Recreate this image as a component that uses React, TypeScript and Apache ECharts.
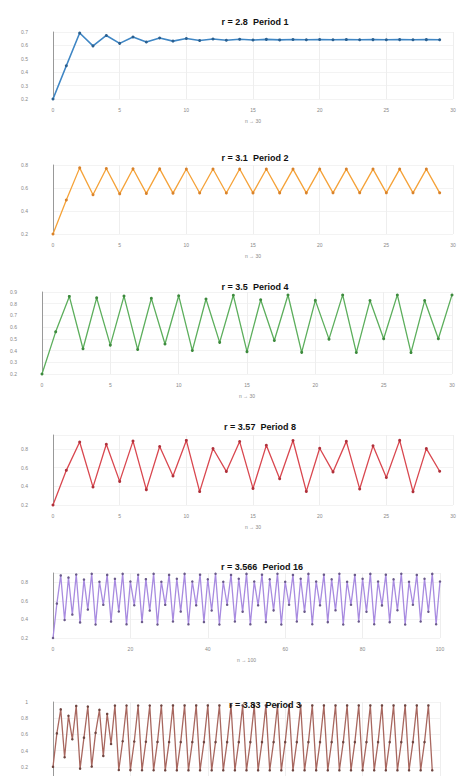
import React, { useEffect, useRef } from "react";
import * as echarts from "echarts";

// Logistic map orbits (x0 = 0.2)
const titles = [
  "r = 2.8  Period 1",
  "r = 3.1  Period 2",
  "r = 3.5  Period 4",
  "r = 3.57  Period 8",
  "r = 3.566  Period 16",
  "r = 3.83  Period 3",
];

const xName = ["n → 30", "n → 30", "n → 30", "n → 30", "n → 100", ""];

const p1 = [0.2, 0.448, 0.6924, 0.5963, 0.674, 0.6152, 0.6628, 0.6258, 0.6557, 0.6321, 0.6511,
  0.636, 0.6482, 0.6385, 0.6463, 0.6401, 0.645, 0.6411, 0.6443, 0.6417, 0.6438, 0.6421, 0.6434,
  0.6424, 0.6432, 0.6426, 0.6431, 0.6427, 0.643, 0.6427];

const p2 = [0.2, 0.496, 0.775, 0.5407, 0.7699, 0.5492, 0.7675, 0.5532, 0.7662, 0.5553, 0.7655,
  0.5564, 0.7651, 0.557, 0.7649, 0.5574, 0.7648, 0.5576, 0.7647, 0.5577, 0.7647, 0.5578, 0.7646,
  0.5579, 0.7646, 0.5579, 0.7646, 0.558, 0.7646, 0.558];

const p3 = [0.2, 0.56, 0.8624, 0.4153, 0.8499, 0.4465, 0.865, 0.4088, 0.8459, 0.4563, 0.8683,
  0.4002, 0.8402, 0.47, 0.8719, 0.391, 0.8334, 0.4859, 0.8743, 0.3847, 0.8284, 0.4975, 0.875,
  0.3829, 0.827, 0.5008, 0.875, 0.3828, 0.8269, 0.5009, 0.875];

const p4 = [0.2, 0.5712, 0.8744, 0.3921, 0.8509, 0.4529, 0.8846, 0.3645, 0.827, 0.5109, 0.8921,
  0.3437, 0.8053, 0.5598, 0.8797, 0.3777, 0.8391, 0.482, 0.8913, 0.3458, 0.8076, 0.5548, 0.8818,
  0.3721, 0.8341, 0.4939, 0.8924, 0.3429, 0.8044, 0.5618];

const p5 = [0.2, 0.5706, 0.8737, 0.3934, 0.851, 0.4523, 0.8834, 0.3674, 0.8288, 0.506, 0.8914,
  0.3453, 0.8061, 0.5573, 0.8798, 0.3771, 0.8376, 0.485, 0.8907, 0.3472, 0.8082, 0.5527, 0.8816,
  0.3723, 0.8333, 0.4953, 0.8914, 0.3452, 0.806, 0.5576, 0.8797, 0.3775, 0.838, 0.4842, 0.8906,
  0.3474, 0.8085, 0.5522, 0.8818, 0.3717, 0.8328, 0.4966, 0.8915, 0.3451, 0.8059, 0.5579, 0.8796,
  0.3778, 0.8382, 0.4836, 0.8905, 0.3476, 0.8087, 0.5517, 0.882, 0.3712, 0.8324, 0.4976, 0.8915,
  0.345, 0.8058, 0.558, 0.8795, 0.3779, 0.8383, 0.4833, 0.8905, 0.3477, 0.8088, 0.5515, 0.8821,
  0.371, 0.8321, 0.4981, 0.8915, 0.345, 0.8058, 0.5581, 0.8795, 0.378, 0.8384, 0.4831, 0.8905,
  0.3478, 0.8089, 0.5513, 0.8821, 0.3708, 0.832, 0.4984, 0.8915, 0.345, 0.8058, 0.5581, 0.8795,
  0.378, 0.8384, 0.4831, 0.8905, 0.3478, 0.8089];

const p6 = [0.2, 0.6128, 0.9088, 0.3175, 0.83, 0.5404, 0.9512, 0.1776, 0.5595, 0.9439, 0.2027,
  0.6189, 0.9034, 0.3344, 0.8524, 0.4818, 0.9562, 0.1603, 0.5156, 0.9566, 0.1591, 0.5124, 0.9569,
  0.1579, 0.5093, 0.9572, 0.157, 0.507, 0.9573, 0.1565, 0.5056, 0.9574, 0.1563, 0.505, 0.9574,
  0.1562, 0.5048, 0.9574, 0.1562, 0.5047, 0.9574, 0.1562, 0.5047, 0.9574, 0.1561, 0.5047, 0.9574,
  0.1561, 0.5047, 0.9574, 0.1561, 0.5047, 0.9574, 0.1561, 0.5047, 0.9574, 0.1561, 0.5047, 0.9574,
  0.1561, 0.5047, 0.9574, 0.1561, 0.5047, 0.9574, 0.1561, 0.5047, 0.9574, 0.1561, 0.5047, 0.9574,
  0.1561, 0.5047, 0.9574, 0.1561, 0.5047, 0.9574, 0.1561, 0.5047, 0.9574, 0.1561, 0.5047, 0.9574,
  0.1561, 0.5047, 0.9574, 0.1561, 0.5047, 0.9574, 0.1561, 0.5047, 0.9574, 0.1561, 0.5047, 0.9574,
  0.1561, 0.5047, 0.9574, 0.1561];

const seriesData = [p1, p2, p3, p4, p5, p6];
const lineColors = ["#3f86c4", "#f5a238", "#5cae5c", "#d9474f", "#a88be0", "#a8675f"];
const dotColors = ["#2a5f8f", "#d9822a", "#3d8a3d", "#b0303a", "#6a5a8a", "#6e4540"];

// axis settings per panel
const xMax = [30, 30, 30, 30, 100, 100];
const xInterval = [5, 5, 5, 5, 20, 20];
const yMin = [0.2, 0.2, 0.2, 0.2, 0.2, 0];
const yMax = [0.7, 0.8, 0.9, 0.95, 0.9, 1];
const yInterval = [0.1, 0.2, 0.1, 0.2, 0.2, 0.2];

// layout (px)
const gridLeft = [53, 53, 42, 53, 53, 53];
const gridWidth = [400, 400, 410, 400, 387, 387];
const gridTop = [32, 165, 292, 435, 573, 702];
const gridHeight = [67, 69, 82, 70, 65, 81];
const titleTop = [12, 148, 277, 417, 557, 695];
const titleX = [250, 250, 250, 255, 257, 260];

export default function App() {
  const ref = useRef<HTMLDivElement>(null);
  useEffect(() => {
    if (!ref.current) return;
    const chart = echarts.init(ref.current, undefined, { renderer: "svg" });
    const fmt = (v: number) => {
      const r = Math.round(v * 100) / 100;
      return String(r);
    };
    chart.setOption({
      animation: false,
      backgroundColor: "#ffffff",
      title: titles.map((t, i) => ({
        text: t,
        left: titleX[i],
        top: titleTop[i],
        textAlign: "center",
        textStyle: { fontSize: 9, fontWeight: "bold", color: "#111", fontFamily: "Liberation Sans, Arial, sans-serif" },
      })),
      grid: titles.map((_, i) => ({
        left: gridLeft[i],
        width: gridWidth[i],
        top: gridTop[i],
        height: gridHeight[i],
        containLabel: false,
      })),
      xAxis: titles.map((_, i) => ({
        type: "value",
        gridIndex: i,
        min: 0,
        max: xMax[i],
        interval: xInterval[i],
        name: xName[i],
        nameLocation: "middle",
        nameGap: 19,
        nameTextStyle: { fontSize: 5, color: "#888" },
        axisLine: { show: false },
        axisTick: { show: false },
        axisLabel: { show: i !== 5, fontSize: 5, color: "#888", margin: 8 },
        splitLine: { show: true, lineStyle: { color: "#eeeeee", width: 1 } },
      })),
      yAxis: titles.map((_, i) => ({
        type: "value",
        gridIndex: i,
        min: yMin[i],
        max: yMax[i],
        interval: yInterval[i],
        axisLine: { show: true, onZero: false, lineStyle: { color: "#999", width: 1 } },
        axisTick: { show: false },
        axisLabel: {
          fontSize: 5,
          color: "#888",
          margin: 25,
          showMaxLabel: i !== 3 && i !== 4,
          showMinLabel: i !== 5,
          formatter: fmt,
        },
        splitLine: { show: true, lineStyle: { color: "#f3f3f3", width: 1 } },
      })),
      series: seriesData.map((d, i) => ({
        type: "line",
        xAxisIndex: i,
        yAxisIndex: i,
        data: d.map((v, n) => [n, v]),
        showSymbol: true,
        symbol: "circle",
        symbolSize: i >= 4 ? 2.5 : 3,
        lineStyle: { color: lineColors[i], width: i === 0 ? 1.6 : 1.3 },
        itemStyle: { color: dotColors[i] },
        clip: false,
      })),
    });
    return () => chart.dispose();
  }, []);
  return (
    <div
      ref={ref}
      style={{ position: "fixed", left: 0, top: 0, width: 459, height: 800, background: "#fff" }}
    />
  );
}
